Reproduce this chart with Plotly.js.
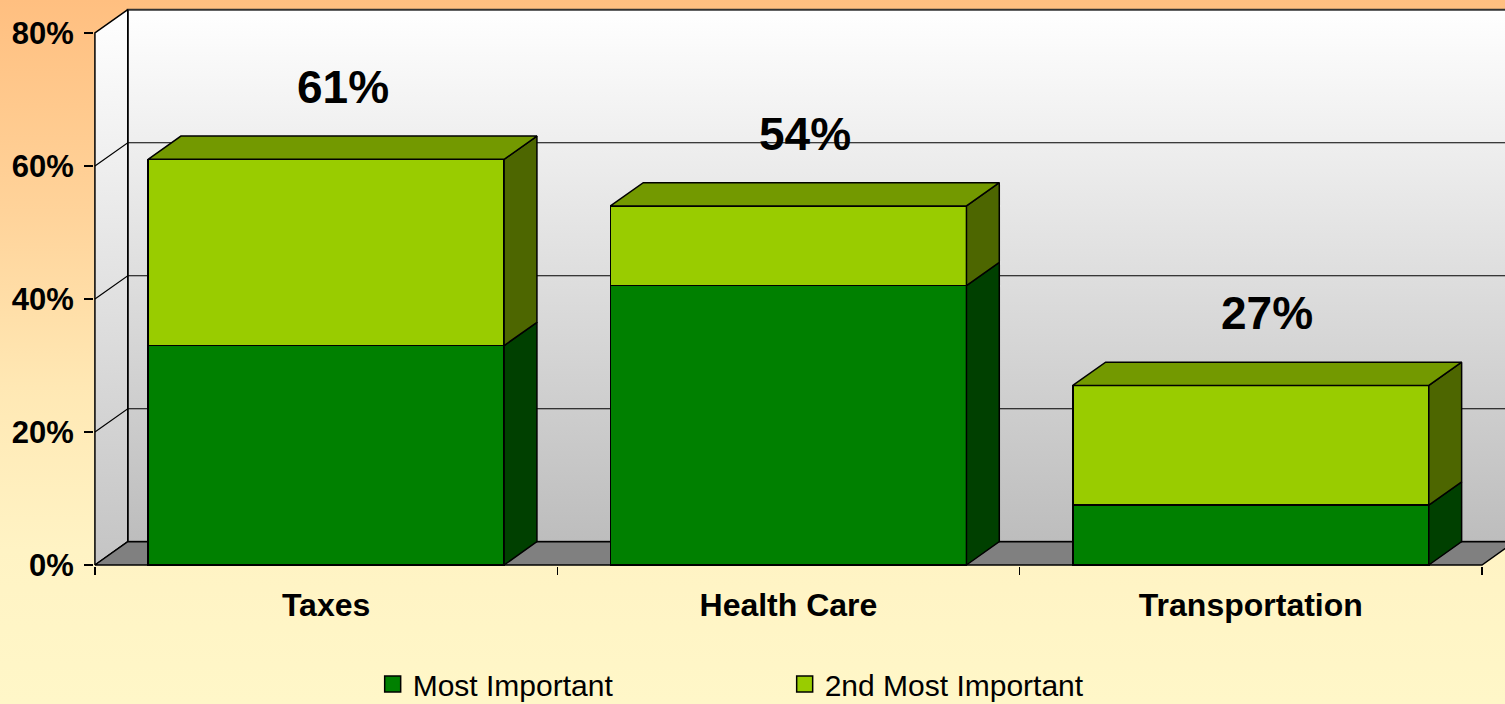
<!DOCTYPE html>
<html><head><meta charset="utf-8">
<script src="https://cdn.plot.ly/plotly-3.0.1.min.js"></script>
<style>
html,body{margin:0;padding:0;}
#chart{width:1505px;height:704px;background:linear-gradient(to bottom,#ffbf80 0%,#ffd39a 30%,#ffe8b4 55%,#fff3c4 78%,#fff7c8 100%);}
</style></head><body><div id="chart"></div>
<script>
// ---- data ----
const categories = ['Taxes', 'Health Care', 'Transportation'];
const mostImportant = [33, 42, 9];
const secondImportant = [28, 12, 18];
const yTickValues = [0, 20, 40, 60, 80];
const yTickLabels = ['0%', '20%', '40%', '60%', '80%'];
const seriesNames = ['Most Important', '2nd Most Important'];

// ---- style ----
const colFront = ['#008000', '#99cc00'];
const colSide = ['#004000', '#4d6600'];
const colTop = '#739900';
const FONT = 'Liberation Sans, Arial, sans-serif';
const DX = 0.071, DY = 3.5, W = 0.77;
const XR = [-0.502, 2.5498], YR = [-0.15, 83.76];
const yMax = yTickValues[yTickValues.length - 1];

const xpos = categories.map((c, i) => i);
const totals = mostImportant.map((v, i) => v + secondImportant[i]);

function poly(pts) { return pts.concat([pts[0]]); }
function facesTrace(list, color, axis) {
  const x = [], y = [];
  list.forEach(pts => { poly(pts).forEach(p => { x.push(p[0]); y.push(p[1]); }); x.push(null); y.push(null); });
  return {type: 'scatter', mode: 'lines', x, y, yaxis: axis, fill: 'toself', fillcolor: color,
    line: {color: '#000', width: 1.5}, showlegend: false, hoverinfo: 'skip'};
}

const traces = [];
// ---- walls & floor (main subplot) ----
const x0 = -0.5, x3 = 2.5;
const bw = [[x0 + DX, DY], [x0 + DX, yMax + DY], [3.2, yMax + DY], [3.2, DY]];
traces.push({type: 'scatter', mode: 'lines', x: poly(bw).map(p => p[0]), y: poly(bw).map(p => p[1]),
  fill: 'toself', fillgradient: {type: 'vertical', colorscale: [[0, '#bdbdbd'], [1, '#ffffff']], start: DY, stop: yMax + DY},
  line: {color: '#333', width: 2}, showlegend: false, hoverinfo: 'skip'});
const lw = [[x0, 0], [x0 + DX, DY], [x0 + DX, yMax + DY], [x0, yMax]];
traces.push({type: 'scatter', mode: 'lines', x: poly(lw).map(p => p[0]), y: poly(lw).map(p => p[1]),
  fill: 'toself', fillgradient: {type: 'vertical', colorscale: [[0, '#c4c4c4'], [1, '#ffffff']], start: 0, stop: yMax + DY},
  line: {color: '#000', width: 1.5}, showlegend: false, hoverinfo: 'skip'});
const fl = [[x0, 0], [x3, 0], [x3 + DX, DY], [x0 + DX, DY]];
traces.push({type: 'scatter', mode: 'lines', x: poly(fl).map(p => p[0]), y: poly(fl).map(p => p[1]),
  fill: 'toself', fillcolor: '#808080', line: {color: '#000', width: 1.5}, showlegend: false, hoverinfo: 'skip'});
// gridlines
const gx = [], gy = [];
yTickValues.slice(1, -1).forEach(v => {
  gx.push(x0, x0 + DX, 3.2, null); gy.push(v, v + DY, v + DY, null);
});
traces.push({type: 'scatter', mode: 'lines', x: gx, y: gy, line: {color: '#000', width: 1.2}, showlegend: false, hoverinfo: 'skip'});

// ---- bars (overlay subplot, drawn above walls) ----
traces.push({type: 'bar', name: seriesNames[0], x: xpos, y: mostImportant, yaxis: 'y2', width: W,
  marker: {color: colFront[0], line: {color: '#000', width: 1.5}}, showlegend: false, hoverinfo: 'skip'});
traces.push({type: 'bar', name: seriesNames[1], x: xpos, y: secondImportant, yaxis: 'y2', width: W,
  marker: {color: colFront[1], line: {color: '#000', width: 1.5}}, showlegend: false, hoverinfo: 'skip'});
const side0 = xpos.map((c, i) => { const xr = c + W / 2; return [[xr, 0], [xr + DX, DY], [xr + DX, mostImportant[i] + DY], [xr, mostImportant[i]]]; });
const side1 = xpos.map((c, i) => { const xr = c + W / 2; return [[xr, mostImportant[i]], [xr + DX, mostImportant[i] + DY], [xr + DX, totals[i] + DY], [xr, totals[i]]]; });
const tops = xpos.map((c, i) => { const xl = c - W / 2, xr = c + W / 2; return [[xl, totals[i]], [xl + DX, totals[i] + DY], [xr + DX, totals[i] + DY], [xr, totals[i]]]; });
traces.push(facesTrace(side0, colSide[0], 'y2'));
traces.push(facesTrace(side1, colSide[1], 'y2'));
traces.push(facesTrace(tops, colTop, 'y2'));

// ---- legend entries ----
seriesNames.forEach((n, k) => traces.push({type: 'scatter', mode: 'markers', name: n, x: [null], y: [null],
  marker: {symbol: 'square', size: 16, color: colFront[k], line: {color: '#000', width: 1.5}}}));

const annotations = xpos.map((c, i) => ({x: c + DX / 2, y: totals[i] + DY, xref: 'x', yref: 'y', text: totals[i] + '%',
  showarrow: false, yanchor: 'bottom', yshift: 21, font: {family: FONT, size: 46, weight: 700, color: '#000'}}));

const layout = {
  width: 1505, height: 704,
  margin: {l: 94, r: 0, t: 8, b: 138, autoexpand: false},
  paper_bgcolor: 'rgba(0,0,0,0)', plot_bgcolor: 'rgba(0,0,0,0)',
  barmode: 'stack',
  showlegend: true,
  legend: {orientation: 'h', x: 0.1975, xanchor: 'left', y: -0.2115, yanchor: 'middle', entrywidth: 367,
    font: {family: FONT, size: 30, color: '#000'}, bgcolor: 'rgba(0,0,0,0)', traceorder: 'normal'},
  xaxis: {range: XR, tickvals: xpos, ticktext: categories, ticks: '', showgrid: false, zeroline: false, showline: false,
    ticklabelstandoff: 17, tickfont: {family: FONT, size: 32, weight: 700, color: '#000'},
    minor: {tick0: -0.5, dtick: 1, ticks: 'outside', ticklen: 8, tickwidth: 1.5, tickcolor: '#000', showgrid: false}},
  yaxis: {range: YR, tickvals: yTickValues, ticktext: yTickLabels, ticks: 'outside', ticklen: 9, tickwidth: 1.5, tickcolor: '#000',
    showgrid: false, zeroline: false, showline: false, ticklabelstandoff: 4,
    tickfont: {family: FONT, size: 31, weight: 700, color: '#000'}},
  yaxis2: {range: YR, overlaying: 'y', visible: false},
  annotations: annotations
};
Plotly.newPlot('chart', traces, layout, {staticPlot: true});
</script></body></html>
